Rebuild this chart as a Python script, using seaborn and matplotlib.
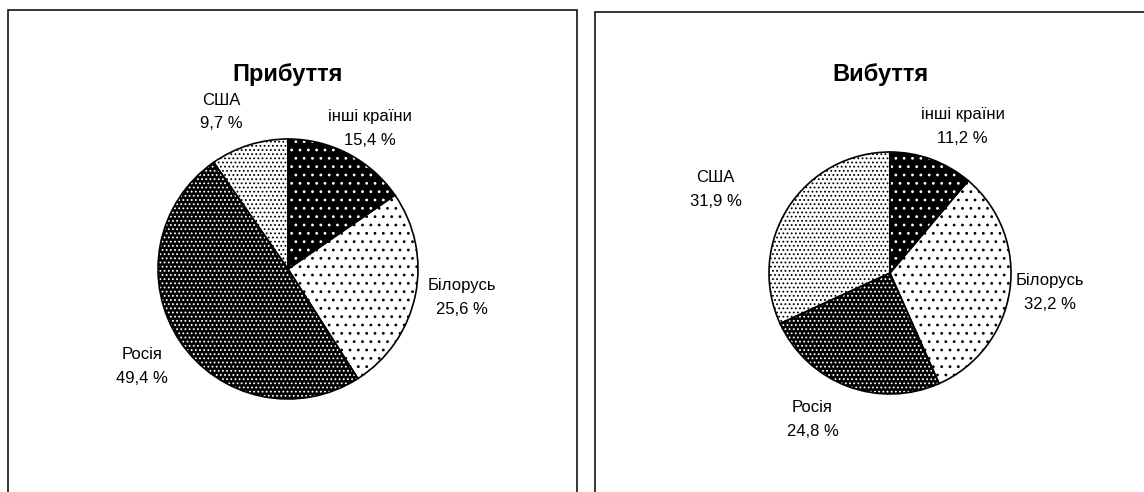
import matplotlib
matplotlib.use("Agg")
import seaborn as sns
from matplotlib import pyplot as plt
from matplotlib.patches import Rectangle

# data: shares of migration by country, %
countries = ["інші країни", "Білорусь", "Росія", "США"]
arrivals = [15.4, 25.6, 49.4, 9.7]
departures = [11.2, 32.2, 24.8, 31.9]
titles = ["Прибуття", "Вибуття"]

# fill styles per country: face colour, dot colour, hatch
faces = ["black", "white", "black", "white"]
dots = ["white", "black", "white", "black"]
hatches = ["..", "..", "....", "...."]

sns.set_theme(style="white")
plt.rcParams["font.family"] = ["Liberation Sans", "DejaVu Sans"]
plt.rcParams["text.color"] = "black"
plt.rcParams["hatch.linewidth"] = 0.8

W, H = 1144, 492
fig = plt.figure(figsize=(W / 100, H / 100), dpi=100)


def px_axes(cx, cy, r):
    return fig.add_axes([(cx - r) / W, (H - cy - r) / H, 2 * r / W, 2 * r / H])


# label positions in units of pie radius
label_pos = [
    [(0.63, 1.08), (1.34, -0.22), (-1.12, -0.75), (-0.51, 1.21)],
    [(0.60, 1.21), (1.32, -0.16), (-0.64, -1.21), (-1.44, 0.69)],
]
pies = [(288, 269, 130), (890, 273, 121)]
title_x = [288, 880]

for k, values in enumerate([arrivals, departures]):
    cx, cy, r = pies[k]
    ax = px_axes(cx, cy, r)
    wedges, _ = ax.pie(
        values,
        colors=faces,
        startangle=90,
        counterclock=False,
        radius=1,
        wedgeprops=dict(linewidth=0),
    )
    for w, h, d in zip(wedges, hatches, dots):
        w.set_hatch(h)
        w.set_edgecolor(d)
    ax.pie(
        values,
        colors=["none"] * 4,
        startangle=90,
        counterclock=False,
        radius=1,
        wedgeprops=dict(edgecolor="black", linewidth=1.2),
    )
    ax.set_xlim(-1, 1)
    ax.set_ylim(-1, 1)
    ax.set_axis_off()
    for name, v, (lx, ly) in zip(countries, values, label_pos[k]):
        ax.text(
            lx, ly, f"{name}\n{v:.1f} %".replace(".", ","),
            ha="center", va="center", fontsize=12, linespacing=1.7,
            clip_on=False,
        )
    fig.text(title_x[k] / W, 1 - 75 / H, titles[k], ha="center", va="center",
             fontsize=17, fontweight="bold")

# frames around each chart
fig.add_artist(Rectangle((8 / W, -0.1), 569 / W, (H - 10) / H + 0.1,
                         transform=fig.transFigure, fill=False,
                         edgecolor="black", linewidth=1.1))
fig.add_artist(Rectangle((595 / W, -0.1), 1.0, (H - 12) / H + 0.1,
                         transform=fig.transFigure, fill=False,
                         edgecolor="black", linewidth=1.1))

fig.savefig("out.png", dpi=100, facecolor="white")
